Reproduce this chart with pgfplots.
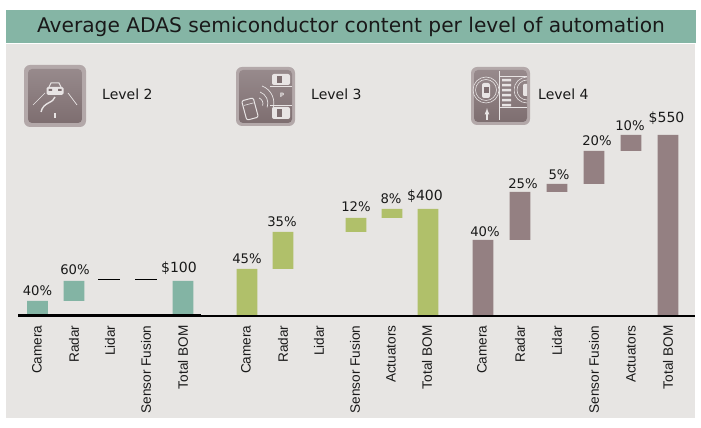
\documentclass[border=0pt]{standalone}
\usepackage{pgfplots}
\usepackage{pgfplotstable}
\usepackage{fontspec}
\setmainfont{DejaVu Sans}
\newfontfamily\catfont{Liberation Sans}
\pgfplotsset{compat=1.18}
\definecolor{band}{HTML}{85B5A5}
\definecolor{panel}{HTML}{E7E5E3}
\definecolor{teal}{HTML}{83B4A4}
\definecolor{olive}{HTML}{B0C06A}
\definecolor{mauve}{HTML}{948082}
\definecolor{icono}{HTML}{B3A8A9}
\definecolor{iconi}{HTML}{7E6E70}
\definecolor{iconl}{HTML}{978A8C}
\definecolor{iconw}{HTML}{E8E4E4}
% heights are read in pixels above the baseline: the bars are not to a common dollar scale
\pgfplotstableread{
x base l2 l3 l4
37.5 0 14 0 0
74 14 20 0 0
110 0 0 0 0
146 0 0 0 0
183 0 34 0 0
247 0 0 46 0
283 46 0 37 0
320 0 0 0 0
356 83 0 14 0
392 97 0 9 0
428 0 0 106 0
483 0 0 0 75
520 75 0 0 48
557 123 0 0 8
594 131 0 0 33
631 164 0 0 16
668 0 0 0 180
}\bars
\begin{document}
\begin{tikzpicture}
\begin{axis}[
  scale only axis, width=701pt, height=428pt,
  xmin=0, xmax=701, ymin=-113, ymax=315,
  axis on top,
  axis x line=middle, axis y line=none,
  axis line style={draw=none}, x axis line style={-},
  ytick=\empty, major tick length=0pt,
  xtick={37,74,110,146,183,246,283,319,355,391,427,482,520,557,594,631,668},
  xticklabels={Camera,Radar,Lidar,Sensor Fusion,Total BOM,Camera,Radar,Lidar,Sensor Fusion,Actuators,Total BOM,Camera,Radar,Lidar,Sensor Fusion,Actuators,Total BOM},
  xticklabel style={rotate=90, anchor=east, font=\catfont\fontsize{13.6}{14}\selectfont, text=black!90, xshift=-7pt},
  ybar stacked, reverse stacked plots=false, bar width=20.7pt,
  clip=false,
]
% page extent and backgrounds
\path[use as bounding box] (axis cs:0,-113) rectangle (axis cs:701,315);
\fill[panel] (axis cs:6,-103) rectangle (axis cs:695,271);
\fill[band] (axis cs:6,272) rectangle (axis cs:696,305);
\node[font=\fontsize{20.2}{21}\selectfont, text=black!90, anchor=center] at (axis cs:351,288) {Average ADAS semiconductor content per level of automation};
% bars
\addplot[draw=none, fill=none] table[x=x, y=base] {\bars};
\addplot[draw=none, fill=teal] table[x=x, y=l2] {\bars};
\addplot[draw=none, fill=olive] table[x=x, y=l3] {\bars};
\addplot[draw=none, fill=mauve] table[x=x, y=l4] {\bars};
% baseline and dashes
\draw[black, line width=1.8pt] (axis cs:18,-1) -- (axis cs:695,-1);
\draw[black, line width=3pt] (axis cs:18,-1) -- (axis cs:201,-1);
\draw[black, line width=0.8pt] (axis cs:98,36) -- (axis cs:120,36);
\draw[black, line width=0.8pt] (axis cs:135,36) -- (axis cs:157,36);
% value labels
\tikzset{v/.style={font=\fontsize{13.2}{13}\selectfont, text=black!90}, d/.style={font=\fontsize{14}{14}\selectfont, text=black!90}}
\node[v] at (axis cs:37.5,24) {40\%};
\node[v] at (axis cs:75,45) {60\%};
\node[d] at (axis cs:179,47) {\$100};
\node[v] at (axis cs:247,56) {45\%};
\node[v] at (axis cs:282,93) {35\%};
\node[v] at (axis cs:356,108) {12\%};
\node[v] at (axis cs:391,116) {8\%};
\node[d] at (axis cs:425,119) {\$400};
\node[v] at (axis cs:485,83) {40\%};
\node[v] at (axis cs:523,131) {25\%};
\node[v] at (axis cs:559,140) {5\%};
\node[v] at (axis cs:597,174) {20\%};
\node[v] at (axis cs:630,189) {10\%};
\node[d] at (axis cs:666.5,197) {\$550};
% level labels
\tikzset{l/.style={font=\fontsize{14}{14}\selectfont, text=black!90, anchor=west, inner sep=0pt}}
\node[l] at (axis cs:102,221) {Level 2};
\node[l] at (axis cs:311,221) {Level 3};
\node[l] at (axis cs:538,221) {Level 4};
% icons, in image pixel coordinates
\begin{scope}[shift={(axis cs:0,315)}, x=1pt, y=-1pt]
\fill[icono, rounded corners=6pt] (24,65) rectangle (86,127);
\shade[top color=iconl, bottom color=iconi, rounded corners=4pt] (28,69) rectangle (82,123);
\fill[icono, rounded corners=6pt] (236,67) rectangle (295,126);
\shade[top color=iconl, bottom color=iconi, rounded corners=4pt] (239,70) rectangle (292,123);
\fill[icono, rounded corners=6pt] (471,67) rectangle (530,125);
\shade[top color=iconl, bottom color=iconi, rounded corners=4pt] (474,70) rectangle (527,122);
% level 2
\draw[iconw, line width=0.7pt] (33,105) -- (45,93) (68,93) -- (77,105);
\draw[iconw, line width=1.4pt] (55,97) .. controls (54,103) and (43,102) .. (41,112);
\fill[iconw] (54,113) rectangle (56,118);
\fill[iconw, rounded corners=1.5pt] (46.5,87) rectangle (63.5,95);
\draw[iconw, line width=1pt] (49,87) -- (51,83) -- (59,83) -- (61,87);
\fill[iconi] (48.5,89) rectangle (52,91) (58,89) rectangle (61.5,91);
% level 3
\fill[iconw, rounded corners=2pt] (272,74) rectangle (290,85);
\fill[iconi] (277,76) rectangle (282,83);
\fill[iconw, rounded corners=2pt] (272,107) rectangle (290,119);
\fill[iconi] (277,109) rectangle (282,117);
\draw[iconw, line width=0.6pt] (270,86) -- (292,86) (270,105) -- (292,105);
\node[text=iconw, font=\fontsize{6}{6}\selectfont\bfseries, inner sep=0pt] at (282,95) {P};
\draw[iconw, line width=1pt, rounded corners=2pt, rotate around={15:(250,109)}] (244,99) rectangle (256,119);
\draw[iconw, line width=0.6pt, rotate around={15:(250,109)}] (245,104) -- (255,104);
\draw[iconw, line width=0.7pt] (259,98) arc[start angle=-70, end angle=20, radius=6];
\draw[iconw, line width=0.7pt] (260,92) arc[start angle=-70, end angle=20, radius=12];
\draw[iconw, line width=0.7pt] (262,86) arc[start angle=-70, end angle=20, radius=18];
% level 4
\draw[iconw, line width=0.6pt] (486,90) circle[radius=13] (486,90) circle[radius=10.5];
\fill[iconw, rounded corners=2pt] (482,83) rectangle (490,98);
\fill[iconi] (483.5,87) rectangle (488.5,93);
\draw[iconw, line width=0.6pt] (499,71) -- (499,120) (499,76) -- (527,76) (499,107) -- (527,107);
\fill[iconw] (502,79) rectangle (511,81.5) (502,84) rectangle (511,86.5) (502,89) rectangle (511,91.5) (502,94) rectangle (511,96.5) (502,99) rectangle (511,101.5) (502,104) rectangle (511,106.5);
\begin{scope}
\clip (514,70) rectangle (527,122);
\draw[iconw, line width=0.6pt] (527,90) circle[radius=13] (527,90) circle[radius=10];
\fill[iconw, rounded corners=1pt] (523,84) rectangle (530,96);
\end{scope}
\draw[iconw, line width=1.2pt, -latex] (487,120) -- (487,108);
\end{scope}
\end{axis}
\end{tikzpicture}
\end{document}
